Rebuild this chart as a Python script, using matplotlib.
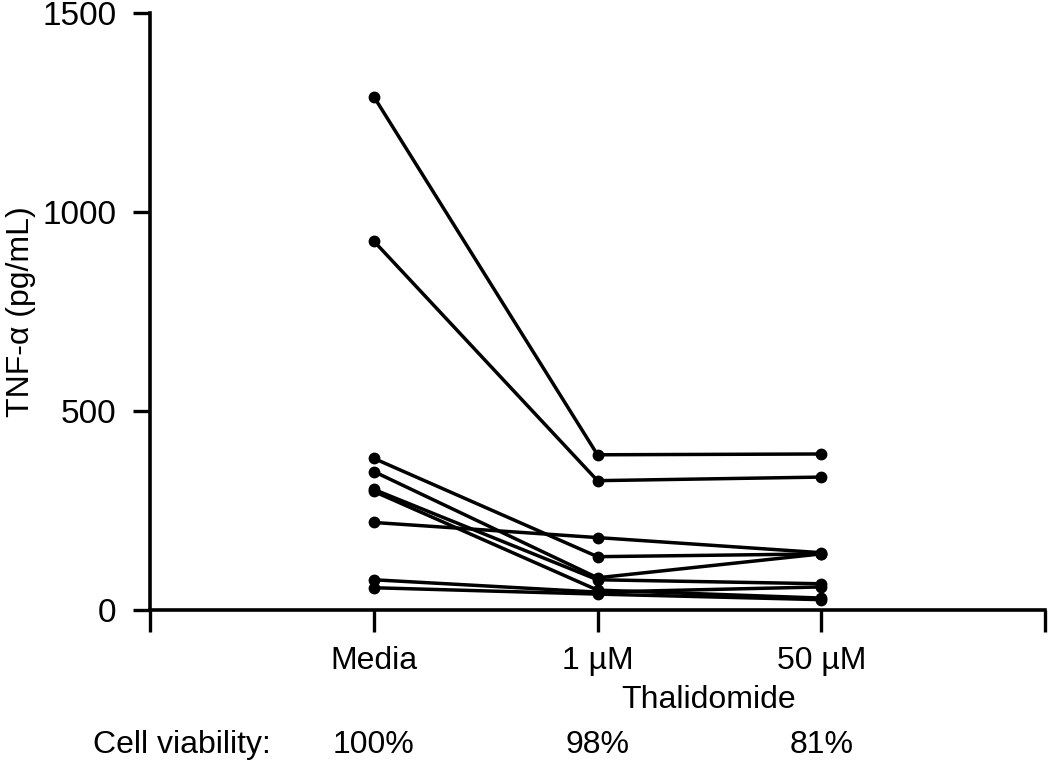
import matplotlib
matplotlib.use("Agg")
import matplotlib.pyplot as plt
from matplotlib import transforms

plt.rcParams['font.family'] = ['Liberation Sans', 'DejaVu Sans']

# categories on the x axis (positions 1..3, axis runs 0..4)
groups = ["Media", "1 µM", "50 µM"]
viability = ["100%", "98%", "81%"]

# TNF-alpha (pg/mL) for each donor: media, 1 uM, 50 uM
donor_a = [1290, 390, 392]
donor_b = [927, 325, 334]
donor_c = [381, 134, 141]
donor_d = [348, 81, 141]
donor_e = [303, 76, 66]
donor_f = [298, 50, 30]
donor_g = [220, 182, 144]
donor_h = [76, 45, 58]
donor_i = [56, 40, 26]
donors = [donor_a, donor_b, donor_c, donor_d, donor_e,
          donor_f, donor_g, donor_h, donor_i]

xpos = [1, 2, 3]

fig = plt.figure(figsize=(10.5, 7.63), dpi=100)
ax = fig.add_axes([0.1429, 0.2005, 0.8523, 0.7825])

for d in donors:
    ax.plot(xpos, d, color="black", lw=2.5, marker="o", ms=7.5,
            solid_capstyle="round")

ax.set_xlim(0, 4)
ax.set_ylim(0, 1500)
ax.set_yticks([0, 500, 1000, 1500])
ax.set_xticks([0, 1, 2, 3, 4])
ax.set_xticklabels([""] + groups + [""])

for s in ["top", "right"]:
    ax.spines[s].set_visible(False)
for s in ["left", "bottom"]:
    ax.spines[s].set_linewidth(2.6)

ax.tick_params(axis="y", length=12, width=2.4, labelsize=24, pad=12)
ax.tick_params(axis="x", length=16, width=2.4, labelsize=23, pad=10)

ax.set_ylabel("TNF-α (pg/mL)", fontsize=23)
ax.yaxis.set_label_coords(-0.127, 0.5)

fig.text(0.675, 1 - 700 / 763, "Thalidomide", ha="center", va="center",
         fontsize=23)

trans = transforms.blended_transform_factory(ax.transData, fig.transFigure)
fig.text(0.089, 1 - 745 / 763, "Cell viability:", ha="left", va="center",
         fontsize=23)
for x, v in zip(xpos, viability):
    ax.text(x, 1 - 745 / 763, v, transform=trans, ha="center", va="center",
            fontsize=23)

fig.savefig("out.png", dpi=100)
